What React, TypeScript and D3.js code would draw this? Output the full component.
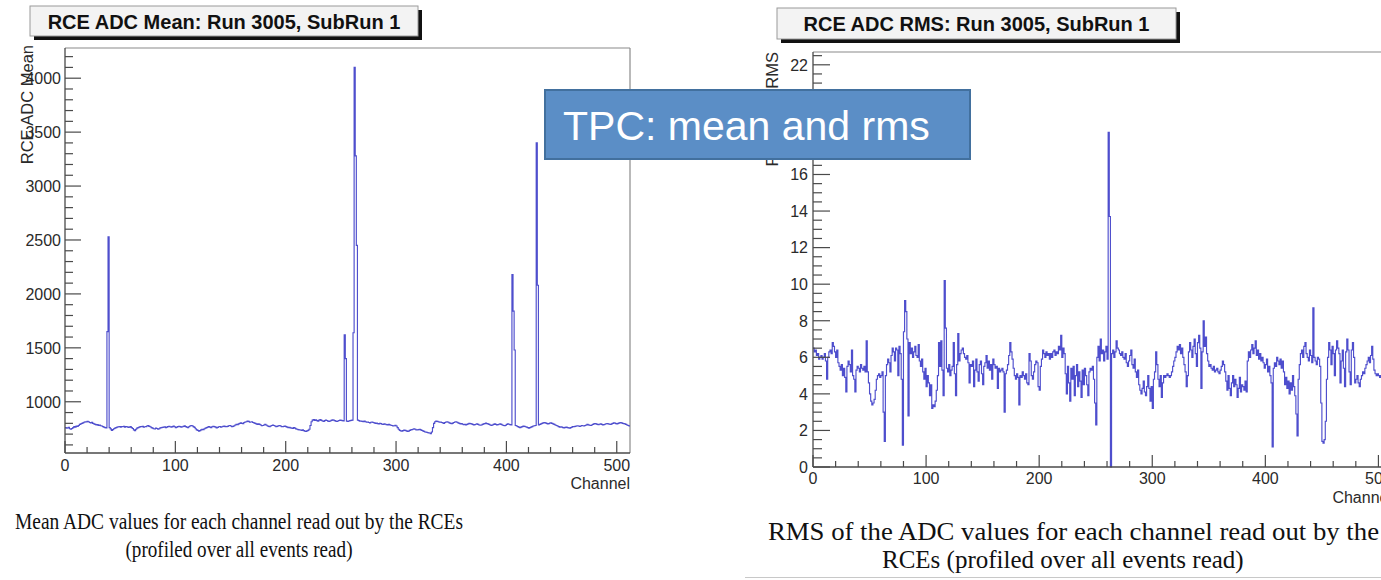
import React, { useEffect, useRef } from "react";
import * as d3 from "d3";

// ---------------- DATA ----------------
const CHANNEL_COUNT = 512;

// Mean ADC per channel (Run 3005, SubRun 1)
const meanADC: number[] = [
  760, 755, 758, 762, 750, 745, 752, 760, 770, 765, 775, 772, 780, 790, 795, 800,
  805, 810, 815, 812, 818, 815, 808, 805, 810, 800, 795, 790, 785, 788, 780, 785,
  778, 775, 770, 765, 760, 758, 1650, 2530, 760, 748, 735, 742, 750, 755, 760, 765,
  768, 770, 765, 770, 768, 772, 765, 770, 768, 762, 765, 770, 760, 752, 740, 732,
  745, 755, 760, 765, 770, 768, 772, 765, 768, 770, 775, 780, 772, 768, 760, 755,
  750, 748, 755, 752, 745, 750, 758, 760, 762, 765, 768, 760, 765, 770, 772, 768,
  765, 770, 775, 768, 760, 765, 770, 772, 770, 765, 768, 772, 778, 770, 765, 760,
  768, 775, 780, 778, 770, 762, 750, 740, 735, 728, 732, 740, 745, 742, 750, 755,
  760, 765, 770, 765, 760, 768, 772, 770, 765, 758, 762, 768, 770, 765, 768, 772,
  775, 770, 768, 772, 778, 780, 775, 770, 772, 778, 785, 790, 788, 795, 800, 805,
  800, 798, 808, 812, 815, 820, 818, 810, 812, 815, 808, 805, 800, 795, 790, 795,
  790, 785, 778, 780, 785, 790, 785, 778, 772, 770, 775, 780, 785, 780, 775, 770,
  772, 778, 780, 775, 770, 768, 772, 775, 770, 765, 760, 762, 758, 755, 752, 760,
  755, 748, 745, 742, 740, 738, 735, 740, 732, 728, 725, 730, 735, 745, 780, 815,
  830, 835, 828, 832, 825, 820, 830, 835, 828, 822, 818, 825, 830, 826, 820, 818,
  822, 828, 832, 830, 825, 820, 818, 822, 826, 830, 828, 825, 822, 1620, 1400, 820,
  818, 822, 825, 828, 830, 1640, 4100, 3280, 2450, 830, 825, 820, 822, 818, 815, 820,
  815, 810, 812, 808, 805, 810, 812, 808, 805, 800, 802, 798, 795, 800, 798, 792,
  790, 795, 792, 788, 785, 790, 786, 782, 780, 775, 778, 782, 775, 760, 745, 735,
  730, 728, 732, 738, 735, 730, 725, 728, 735, 740, 742, 745, 748, 745, 740, 738,
  742, 745, 740, 735, 730, 725, 720, 718, 715, 712, 710, 705, 720, 760, 800, 815,
  820, 818, 815, 810, 812, 808, 805, 800, 808, 812, 815, 810, 805, 800, 798, 802,
  808, 812, 815, 810, 805, 800, 795, 798, 792, 788, 790, 785, 790, 795, 800, 798,
  795, 790, 785, 788, 792, 795, 790, 785, 782, 785, 790, 795, 798, 802, 798, 795,
  790, 785, 780, 785, 790, 795, 790, 785, 788, 792, 795, 790, 785, 780, 778, 782,
  790, 795, 792, 788, 785, 2180, 1840, 1480, 780, 775, 770, 765, 760, 765, 770, 775,
  772, 768, 765, 760, 755, 760, 765, 770, 775, 778, 780, 3400, 2080, 785, 790, 795,
  800, 805, 808, 805, 800, 795, 798, 802, 805, 800, 795, 790, 785, 780, 775, 770,
  765, 768, 765, 760, 758, 762, 765, 760, 758, 755, 760, 765, 770, 768, 772, 775,
  778, 775, 772, 775, 780, 778, 775, 780, 785, 790, 786, 782, 780, 785, 790, 795,
  798, 795, 790, 788, 792, 795, 790, 785, 788, 792, 796, 798, 795, 792, 790, 795,
  800, 805, 802, 798, 795, 800, 805, 808, 805, 800, 798, 795, 790, 785, 780, 775,
];

// RMS of ADC per channel
const rmsADC: number[] = [
  6.5, 6.3, 6.4, 6.1, 6.2, 5.9, 6.0, 6.1, 5.9, 6.0, 6.2, 5.8, 4.8, 6.0, 6.3, 6.4,
  6.2, 6.8, 6.6, 6.3, 6.0, 6.4, 5.7, 5.5, 5.3, 5.6, 5.0, 5.4, 4.9, 4.1, 5.5, 5.8,
  5.6, 5.2, 6.4, 5.0, 4.8, 4.1, 5.3, 5.5, 5.4, 5.2, 5.6, 5.4, 5.3, 5.5, 5.2, 6.9,
  5.2, 4.6, 4.0, 3.6, 3.4, 3.5, 3.7, 4.2, 4.8, 5.0, 5.1, 4.9, 5.0, 5.2, 3.0, 1.4,
  5.0, 5.6, 5.9, 5.7, 5.2, 6.1, 6.5, 6.3, 5.8, 6.5, 6.4, 5.0, 6.6, 6.2, 4.8, 1.2,
  7.4, 9.1, 8.5, 7.0, 2.8, 6.8, 6.2, 6.5, 6.0, 6.3, 6.6, 6.1, 6.0, 6.7, 5.8, 5.5,
  5.9, 5.2, 4.8, 5.4, 4.4, 5.0, 4.6, 3.9, 4.5, 3.2, 3.4, 3.3, 3.6, 4.2, 5.0, 6.8,
  5.5, 6.9, 5.3, 3.9, 10.2, 7.6, 5.4, 5.2, 5.6, 5.0, 5.3, 5.5, 6.8, 5.1, 3.9, 5.6,
  7.3, 5.8, 6.2, 6.4, 6.5, 6.2, 6.0, 5.9, 6.1, 5.7, 4.6, 5.6, 5.5, 5.8, 4.4, 5.3,
  5.9, 5.2, 4.7, 5.6, 5.8, 5.1, 4.5, 5.5, 5.7, 6.1, 5.4, 5.8, 5.3, 5.6, 4.8, 5.9,
  5.6, 5.4, 5.5, 4.3, 5.4, 5.2, 5.3, 5.4, 5.2, 3.0, 5.1, 5.3, 5.6, 6.1, 6.8, 6.3,
  5.9, 5.4, 5.0, 4.8, 5.1, 4.9, 3.4, 5.0, 4.9, 5.2, 5.0, 4.8, 5.1, 4.6, 4.5, 6.2,
  5.8, 5.0, 4.8, 5.2, 5.6, 5.8, 5.7, 4.4, 4.2, 5.5, 5.9, 6.4, 6.2, 6.0, 6.3, 6.1,
  6.2, 5.9, 6.2, 6.0, 6.3, 6.4, 6.1, 6.3, 6.2, 6.6, 6.4, 7.2, 6.0, 6.5, 6.2, 5.1,
  4.0, 5.5, 4.6, 3.6, 5.4, 4.8, 5.5, 3.9, 5.0, 5.6, 4.4, 5.2, 4.7, 3.8, 5.3, 4.5,
  5.4, 5.0, 4.5, 3.9, 5.2, 5.4, 5.3, 5.5, 4.8, 3.5, 2.3, 6.0, 6.6, 5.8, 7.0, 6.2,
  6.4, 5.8, 6.3, 6.6, 5.9, 18.3, 13.7, 0.0, 6.2, 6.4, 6.0, 6.3, 6.9, 6.5, 6.4, 6.2,
  6.1, 6.3, 6.0, 5.9, 6.2, 5.7, 5.5, 5.8, 6.1, 6.4, 5.6, 5.4, 5.9, 5.2, 4.9, 5.3,
  4.5, 4.2, 4.0, 4.3, 4.7, 4.1, 3.9, 4.4, 5.0, 4.3, 3.6, 4.4, 3.2, 4.8, 5.2, 6.3,
  5.6, 4.8, 4.4, 5.0, 3.8, 4.6, 5.0, 4.9, 5.0, 5.1, 5.0, 4.9, 5.0, 5.2, 5.5, 5.8,
  6.0, 6.3, 6.6, 6.4, 6.7, 6.2, 6.5, 6.0, 5.6, 5.2, 4.4, 5.0, 6.3, 6.8, 6.4, 6.0,
  6.6, 7.0, 6.2, 5.5, 6.8, 7.2, 6.5, 4.3, 6.3, 8.0, 6.6, 7.1, 6.2, 5.8, 5.5, 5.6,
  5.4, 5.3, 5.5, 5.2, 5.3, 5.4, 5.2, 5.1, 5.3, 5.5, 5.8, 5.6, 5.2, 4.7, 4.2, 5.0,
  4.3, 3.9, 4.6, 5.0, 4.4, 4.8, 4.5, 3.8, 4.3, 4.9, 4.1, 4.5, 4.4, 4.2, 4.7, 4.1,
  5.8, 6.3, 6.0, 6.4, 6.7, 6.2, 6.5, 6.9, 6.1, 6.4, 5.9, 6.2, 5.8, 6.0, 5.7, 5.4,
  5.6, 5.9, 5.2, 5.5, 5.0, 4.6, 1.1, 5.4, 5.7, 5.5, 6.0, 5.8, 5.6, 5.9, 5.4, 5.8,
  5.2, 4.5, 4.9, 4.3, 4.7, 4.0, 4.6, 4.2, 5.0, 4.4, 3.9, 2.9, 1.7, 4.8, 5.6, 6.2,
  6.4, 6.0, 6.6, 6.8, 6.2, 6.0, 5.8, 6.4, 6.1, 5.7, 8.7, 6.0, 5.8, 5.6, 6.0, 5.9,
  5.5, 3.5, 1.4, 1.3, 1.5, 2.5, 4.8, 6.0, 6.8, 6.4, 5.6, 6.6, 6.2, 5.0, 6.4, 6.9,
  6.5, 6.2, 4.6, 5.8, 6.4, 5.4, 4.4, 6.3, 7.0, 6.4, 5.2, 4.5, 6.4, 6.8, 6.0, 4.6,
  4.8, 5.0, 4.6, 4.4, 4.8, 5.0, 5.2, 5.1, 5.4, 5.6, 5.8, 6.0, 5.7, 6.1, 6.6, 5.9,
  5.3, 5.1, 5.0, 5.1, 5.0, 4.9, 5.0, 5.1, 5.0, 4.9, 5.1, 5.0, 5.2, 5.0, 4.9, 5.0,
];

const meanTitle = "RCE ADC Mean: Run 3005, SubRun 1";
const rmsTitle = "RCE ADC RMS: Run 3005, SubRun 1";
const meanYTitle = "RCE ADC Mean";
const rmsYTitle = "RCE ADC RMS";
const xTitle = "Channel";
const overlayText = "TPC: mean and rms";
const meanCaption = [
  "Mean ADC values for each channel read out by the RCEs",
  "(profiled over all events read)",
];
const rmsCaption = [
  "RMS of the ADC values for each channel read out by the",
  "RCEs (profiled over all events read)",
];

const meanYMajor = [1000, 1500, 2000, 2500, 3000, 3500, 4000];
const rmsYMajor = [0, 2, 4, 6, 8, 10, 12, 14, 16, 18, 20, 22];
const xMajor = [0, 100, 200, 300, 400, 500];

// ---------------- STYLE ----------------
const SANS = "'Liberation Sans', Arial, Helvetica, sans-serif";
const SERIF = "'Liberation Serif', 'Times New Roman', serif";
const LINE = "#3636c6";
const AXIS = "#4a4a4a";
const FRAME = "#8a8a8a";
const TXT = "#2a2a2a";

type PanelCfg = {
  data: number[];
  xRange: [number, number];
  yDomain: [number, number];
  yRange: [number, number];
  yMajor: number[];
  yMinorStep: number;
  yMajorLen: number;
  yMinorLen: number;
  yLabelX: number;
  xLabelY: number;
  xTitleY: number;
  yTitleX: number;
  yTitleY: number;
  yTitle: string;
  title: string;
  titleBox: [number, number, number, number];
  titleBaseline: number;
};

function drawPanel(g: d3.Selection<SVGGElement, unknown, null, undefined>, c: PanelCfg) {
  const x = d3.scaleLinear().domain([0, CHANNEL_COUNT]).range(c.xRange);
  const y = d3.scaleLinear().domain(c.yDomain).range(c.yRange);
  const [x0, x1] = c.xRange;
  const [yb, yt] = c.yRange;

  // frame
  g.append("line").attr("x1", x0).attr("x2", x1).attr("y1", yt).attr("y2", yt).attr("stroke", FRAME).attr("stroke-width", 1.2);
  g.append("line").attr("x1", x1).attr("x2", x1).attr("y1", yt).attr("y2", yb).attr("stroke", FRAME).attr("stroke-width", 1.2);

  // histogram (step line)
  const pts: [number, number][] = c.data.map((v, i) => [i, v]);
  pts.push([CHANNEL_COUNT, c.data[c.data.length - 1]]);
  const line = d3
    .line<[number, number]>()
    .x((d) => x(d[0]))
    .y((d) => y(d[1]))
    .curve(d3.curveStepAfter);
  g.append("path").attr("d", line(pts) as string).attr("fill", "none").attr("stroke", LINE).attr("stroke-width", 1.15).attr("stroke-opacity", 0.88);

  // axes lines
  g.append("line").attr("x1", x0).attr("x2", x1).attr("y1", yb).attr("y2", yb).attr("stroke", AXIS).attr("stroke-width", 1.3);
  g.append("line").attr("x1", x0).attr("x2", x0).attr("y1", yt).attr("y2", yb).attr("stroke", AXIS).attr("stroke-width", 1.3);

  // y ticks
  const yMinor = d3.range(
    Math.ceil(c.yDomain[0] / c.yMinorStep) * c.yMinorStep,
    c.yDomain[1] + 1e-9,
    c.yMinorStep
  );
  yMinor.forEach((v) => {
    const isMajor = c.yMajor.some((m) => Math.abs(m - v) < 1e-6);
    g.append("line")
      .attr("x1", x0)
      .attr("x2", x0 + (isMajor ? c.yMajorLen : c.yMinorLen))
      .attr("y1", y(v))
      .attr("y2", y(v))
      .attr("stroke", AXIS)
      .attr("stroke-width", 1.2);
  });
  c.yMajor.forEach((v) => {
    g.append("text")
      .attr("x", c.yLabelX)
      .attr("y", y(v))
      .attr("dy", "0.36em")
      .attr("text-anchor", "end")
      .attr("font-family", SANS)
      .attr("font-size", 16)
      .attr("fill", TXT)
      .text(String(v));
  });

  // x ticks
  d3.range(0, CHANNEL_COUNT + 1, 20).forEach((v) => {
    const isMajor = v % 100 === 0;
    g.append("line")
      .attr("x1", x(v))
      .attr("x2", x(v))
      .attr("y1", yb)
      .attr("y2", yb - (isMajor ? 12 : 6))
      .attr("stroke", AXIS)
      .attr("stroke-width", 1.2);
  });
  xMajor.forEach((v) => {
    g.append("text")
      .attr("x", x(v))
      .attr("y", c.xLabelY)
      .attr("text-anchor", "middle")
      .attr("font-family", SANS)
      .attr("font-size", 16)
      .attr("fill", TXT)
      .text(String(v));
  });
  g.append("text")
    .attr("x", x1)
    .attr("y", c.xTitleY)
    .attr("text-anchor", "end")
    .attr("font-family", SANS)
    .attr("font-size", 16)
    .attr("fill", TXT)
    .text(xTitle);

  // y title
  g.append("text")
    .attr("transform", `translate(${c.yTitleX},${c.yTitleY}) rotate(-90)`)
    .attr("text-anchor", "end")
    .attr("font-family", SANS)
    .attr("font-size", 16.5)
    .attr("fill", TXT)
    .text(c.yTitle);

  // title box with shadow
  const [bx, by, bw, bh] = c.titleBox;
  g.append("rect").attr("x", bx + 4).attr("y", by + 4).attr("width", bw).attr("height", bh).attr("fill", "#111");
  g.append("rect").attr("x", bx).attr("y", by).attr("width", bw).attr("height", bh).attr("fill", "#f3f3f3").attr("stroke", "#9a9a9a").attr("stroke-width", 1);
  g.append("text")
    .attr("x", bx + bw / 2)
    .attr("y", c.titleBaseline)
    .attr("text-anchor", "middle")
    .attr("font-family", SANS)
    .attr("font-weight", "bold")
    .attr("font-size", 20)
    .attr("fill", "#111")
    .text(c.title);
}

export default function App() {
  const ref = useRef<SVGSVGElement | null>(null);

  useEffect(() => {
    const svg = d3.select(ref.current as SVGSVGElement);
    svg.selectAll("*").remove();

    svg.append("rect").attr("width", 1381).attr("height", 580).attr("fill", "#ffffff");

    const left = svg.append("g");
    drawPanel(left, {
      data: meanADC,
      xRange: [65, 630],
      yDomain: [525, 4280],
      yRange: [453, 48],
      yMajor: meanYMajor,
      yMinorStep: 100,
      yMajorLen: 16,
      yMinorLen: 8,
      yLabelX: 61,
      xLabelY: 471,
      xTitleY: 489,
      yTitleX: 33,
      yTitleY: 45,
      yTitle: meanYTitle,
      title: meanTitle,
      titleBox: [30, 6, 388, 30],
      titleBaseline: 29,
    });

    const right = svg.append("g");
    drawPanel(right, {
      data: rmsADC,
      xRange: [813, 1392],
      yDomain: [0, 22.7],
      yRange: [467, 52],
      yMajor: rmsYMajor,
      yMinorStep: 0.5,
      yMajorLen: 17,
      yMinorLen: 9,
      yLabelX: 808,
      xLabelY: 484,
      xTitleY: 503,
      yTitleX: 778,
      yTitleY: 52,
      yTitle: rmsYTitle,
      title: rmsTitle,
      titleBox: [777, 8, 399, 31],
      titleBaseline: 31,
    });

    // captions
    const cap = svg.append("g").attr("font-family", SERIF).attr("fill", "#111");
    cap.append("text").attr("x", 239).attr("y", 529).attr("text-anchor", "middle").attr("font-size", 23)
      .attr("textLength", 448).attr("lengthAdjust", "spacingAndGlyphs").text(meanCaption[0]);
    cap.append("text").attr("x", 239).attr("y", 557).attr("text-anchor", "middle").attr("font-size", 23)
      .attr("textLength", 227).attr("lengthAdjust", "spacingAndGlyphs").text(meanCaption[1]);
    cap.append("text").attr("x", 768).attr("y", 540).attr("text-anchor", "start").attr("font-size", 25)
      .attr("textLength", 611).attr("lengthAdjust", "spacingAndGlyphs").text(rmsCaption[0]);
    cap.append("text").attr("x", 882).attr("y", 568).attr("text-anchor", "start").attr("font-size", 25)
      .text(rmsCaption[1]);
    svg.append("line").attr("x1", 745).attr("x2", 1381).attr("y1", 577.5).attr("y2", 577.5).attr("stroke", "#c8c8c8").attr("stroke-width", 1);

    // overlay label box
    svg.append("rect").attr("x", 545).attr("y", 90).attr("width", 425).attr("height", 69)
      .attr("fill", "#5b8ec6").attr("stroke", "#42709e").attr("stroke-width", 2);
    svg.append("text").attr("x", 563).attr("y", 140).attr("font-family", SANS).attr("font-size", 41)
      .attr("fill", "#ffffff").text(overlayText);
  }, []);

  return (
    <svg
      ref={ref}
      width={1381}
      height={580}
      style={{ position: "absolute", left: 0, top: 0, display: "block" }}
    />
  );
}
